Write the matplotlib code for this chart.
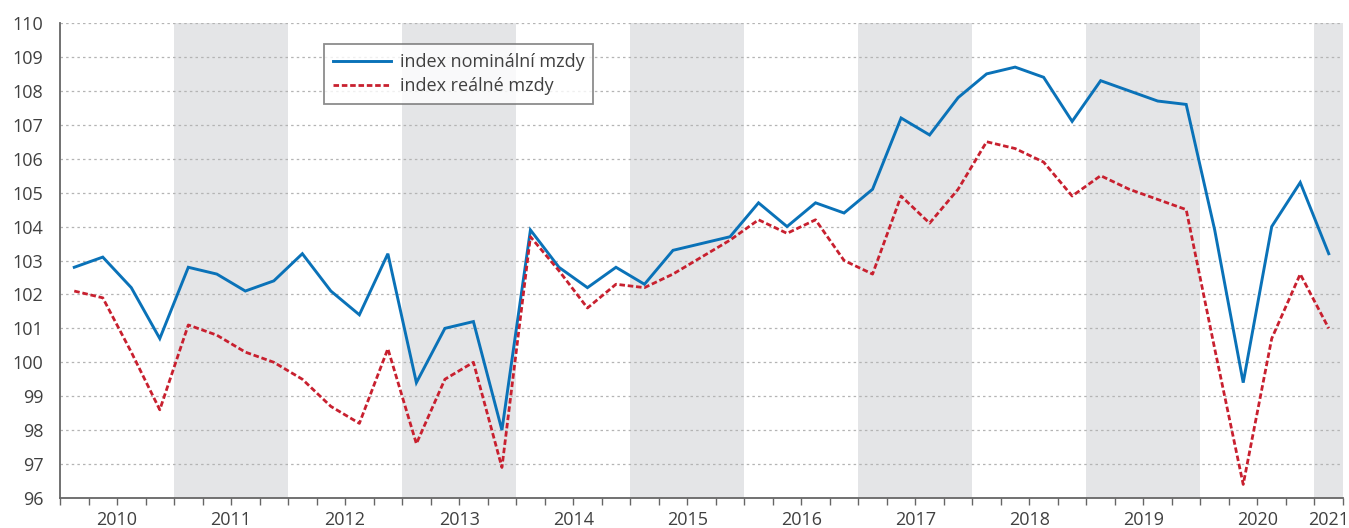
import numpy as np
import matplotlib
matplotlib.use("Agg")
import matplotlib.pyplot as plt

# Quarterly wage indices (same quarter of previous year = 100), 2010Q1 - 2021Q1
years = list(range(2010, 2022))
shaded_years = [2011, 2013, 2015, 2017, 2019, 2021]

nominal = [
    102.8, 103.1, 102.2, 100.7,   # 2010
    102.8, 102.6, 102.1, 102.4,   # 2011
    103.2, 102.1, 101.4, 103.2,   # 2012
    99.4, 101.0, 101.2, 98.0,     # 2013
    103.9, 102.8, 102.2, 102.8,   # 2014
    102.3, 103.3, 103.5, 103.7,   # 2015
    104.7, 104.0, 104.7, 104.4,   # 2016
    105.1, 107.2, 106.7, 107.8,   # 2017
    108.5, 108.7, 108.4, 107.1,   # 2018
    108.3, 108.0, 107.7, 107.6,   # 2019
    103.9, 99.4, 104.0, 105.3,    # 2020
    103.2,                        # 2021
]
real = [
    102.1, 101.9, 100.3, 98.6,    # 2010
    101.1, 100.8, 100.3, 100.0,   # 2011
    99.5, 98.7, 98.2, 100.4,      # 2012
    97.6, 99.5, 100.0, 96.9,      # 2013
    103.7, 102.7, 101.6, 102.3,   # 2014
    102.2, 102.6, 103.1, 103.6,   # 2015
    104.2, 103.8, 104.2, 103.0,   # 2016
    102.6, 104.9, 104.1, 105.1,   # 2017
    106.5, 106.3, 105.9, 104.9,   # 2018
    105.5, 105.1, 104.8, 104.5,   # 2019
    100.4, 96.4, 100.7, 102.6,    # 2020
    101.0,                        # 2021
]
series_labels = ["index nominální mzdy", "index reálné mzdy"]
y_ticks = list(range(96, 111))

plt.rcParams["font.family"] = ["Open Sans", "DejaVu Sans"]

n = len(nominal)
x = np.arange(n) + 0.5  # quarter centres, one unit per quarter

fig = plt.figure(figsize=(13.49, 5.28), dpi=100)
W, H = 1349, 528
ax = fig.add_axes([60 / W, (H - 498) / H, (1343 - 60) / W, (498 - 23) / H])

# alternating year bands
for yr in shaded_years:
    start = (yr - years[0]) * 4
    ax.axvspan(start, min(start + 4, n), color="#e4e5e7", lw=0, zorder=0)

# horizontal dotted grid
for v in y_ticks[1:]:
    ax.axhline(v, color="#b4b4b4", lw=0.9, ls=(0, (2, 2.5)), zorder=1)

ax.plot(x, nominal, color="#0a72b8", lw=2.1, solid_joinstyle="miter",
        label=series_labels[0], zorder=3)
ax.plot(x, real, color="#c8202f", lw=2.0, ls=(0, (2.0, 1.0)),
        label=series_labels[1], zorder=3)

ax.set_xlim(0, n)
ax.set_ylim(96, 110)
ax.set_yticks(y_ticks)
ax.set_yticklabels([str(v) for v in y_ticks])

# quarter boundary ticks
ax.set_xticks(np.arange(0, n + 1))
ax.set_xticklabels([])
ax.tick_params(axis="x", which="major", direction="out", length=5,
               width=1.0, color="#666666")
ax.tick_params(axis="y", length=0, pad=12, labelsize=13, labelcolor="#404040")

# year labels centred under each year (last year only partially shown)
for yr in years:
    start = (yr - years[0]) * 4
    pos = (start + min(start + 4, n)) / 2
    ax.text(pos, -0.028, str(yr), transform=ax.get_xaxis_transform(),
            ha="center", va="top", fontsize=13, color="#404040")

for side in ("top", "right"):
    ax.spines[side].set_visible(False)
for side in ("left", "bottom"):
    ax.spines[side].set_color("#666666")
    ax.spines[side].set_linewidth(1.3)

leg = ax.legend(loc="upper left", bbox_to_anchor=((324 - 60) / (1343 - 60), 1 - (44 - 23) / 475),
                frameon=True, fancybox=False, fontsize=13, handlelength=3.2,
                handletextpad=0.5, borderpad=0.5, labelspacing=0.35,
                borderaxespad=0)
leg.get_frame().set_edgecolor("#707070")
leg.get_frame().set_linewidth(1.3)
for t in leg.get_texts():
    t.set_color("#404040")

fig.savefig("out.png", dpi=100)
